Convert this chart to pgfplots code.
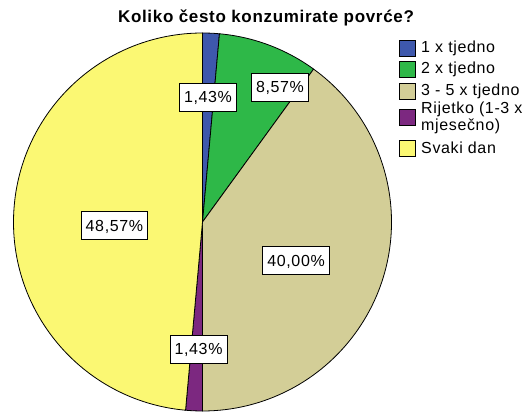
\documentclass[border=0pt]{standalone}
\usepackage{pgfplots}
\pgfplotsset{compat=1.18}
\usepackage{pgfplotstable}
\usepackage{fontspec}
\setmainfont{Liberation Sans}[LetterSpace=4]
\definecolor{c0}{RGB}{62,88,172}
\definecolor{c1}{RGB}{46,184,72}
\definecolor{c2}{RGB}{211,206,151}
\definecolor{c3}{RGB}{124,40,128}
\definecolor{c4}{RGB}{251,248,115}
\pgfplotstableread{
idx value
0 1.43
1 8.57
2 40.00
3 1.43
4 48.57
}\piedata
\begin{document}
\def\cum{0}%
\pgfplotsforeachungrouped \i in {0,...,4}{%
  \pgfplotstablegetelem{\i}{value}\of\piedata
  \pgfmathsetmacro\st{90-3.6*\cum}%
  \pgfmathsetmacro\cumnew{\cum+\pgfplotsretval}%
  \pgfmathsetmacro\en{90-3.6*\cumnew}%
  \expandafter\xdef\csname st\i\endcsname{\st}%
  \expandafter\xdef\csname en\i\endcsname{\en}%
  \xdef\cum{\cumnew}%
}%
\begin{tikzpicture}[x=1pt,y=1pt,
  lbl/.style={draw=black, fill=white, line width=0.9pt, inner xsep=4.5pt, inner ysep=0pt,
     minimum height=28pt, text height=11.5pt, text depth=0pt, font=\fontsize{16}{18}\selectfont}]
\path[use as bounding box] (0,0) rectangle (526,412);
\begin{axis}[hide axis, x=189pt, y=189pt, xmin=-1.05, xmax=1.05, ymin=-1.05, ymax=1.05,
  clip=false, at={(202.5pt,190pt)}, anchor=center]
\pgfplotsinvokeforeach{0,...,4}{%
  \filldraw[fill=c#1, draw=black, line width=0.8pt, line join=round]
    (axis cs:0,0) -- ++(\csname st#1\endcsname:189pt)
    arc[start angle=\csname st#1\endcsname, end angle=\csname en#1\endcsname, radius=189pt] -- cycle;
}
\node[lbl] at (axis cs:0.029,0.661) {1,43\%};
\node[lbl] at (axis cs:0.410,0.714) {8,57\%};
\node[lbl] at (axis cs:0.495,-0.206) {40,00\%};
\node[lbl] at (axis cs:-0.021,-0.672) {1,43\%};
\node[lbl] at (axis cs:-0.466,-0.019) {48,57\%};
\end{axis}
% title
\node[anchor=base, font=\fontsize{17}{20}\selectfont\bfseries] at (266,389) {Koliko često konzumirate povrće?};
% legend
\foreach \c/\y in {c0/48, c1/69, c2/91, c3/117, c4/148}{
  \filldraw[fill=\c, draw=black, line width=0.9pt] (399,{412-\y-8}) rectangle (415,{412-\y+8});
}
\begin{scope}[every node/.style={anchor=west, inner sep=0pt, font=\fontsize{16}{16.5}\selectfont}]
\node at (421,{412-48}) {1 x tjedno};
\node at (421,{412-69}) {2 x tjedno};
\node at (421,{412-91}) {3 - 5 x tjedno};
\node[align=left] at (421,{412-118}) {Rijetko (1-3 x\\mjesečno)};
\node at (421,{412-148}) {Svaki dan};
\end{scope}
\end{tikzpicture}
\end{document}
